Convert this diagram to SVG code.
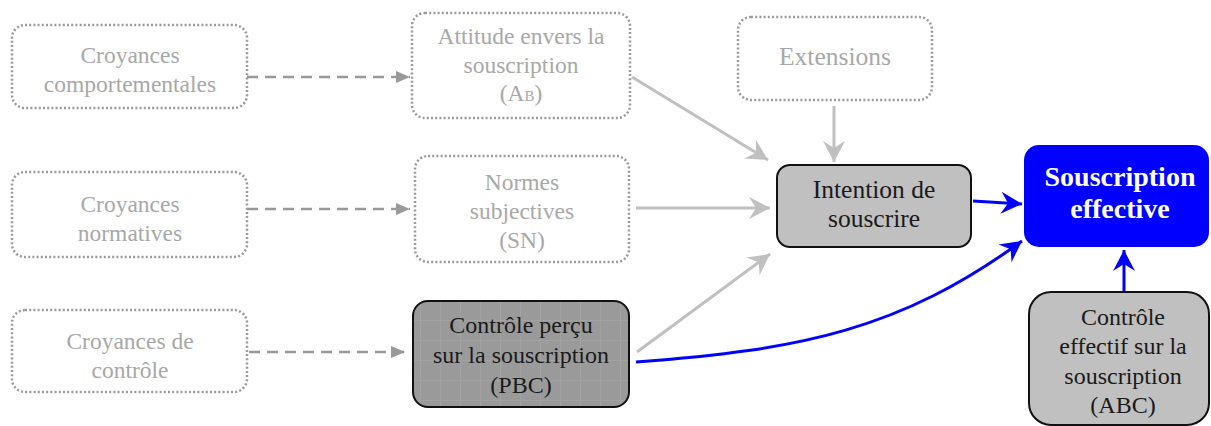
<svg xmlns="http://www.w3.org/2000/svg" width="1211" height="426" viewBox="0 0 1211 426" font-family="'Liberation Serif', 'DejaVu Serif', serif">
  <style>
    text { font-family: 'Liberation Serif', 'DejaVu Serif', serif; font-size: 23.5px; text-anchor: middle; }
    .faded rect { fill: #ffffff; stroke: #9a9a9a; stroke-width: 2.5; stroke-dasharray: 2 2.2; }
    .faded text { fill: #a8a8a8; }
    .solid rect { stroke: #111111; stroke-width: 2; }
    .solid text { fill: #1a1a1a; font-size: 24px; }
    .solid text.big { font-size: 25.5px; }
    .faded text.big { font-size: 25.5px; }
    .title { fill: #ffffff; font-weight: bold; font-size: 28px; }
    .dash { stroke: #999999; stroke-width: 2.5; stroke-dasharray: 11 7; fill: none; }
    .grey { stroke: #c0c0c0; stroke-width: 3; fill: none; }
    .blue { stroke: #0000ff; stroke-width: 3; fill: none; }
  </style>
  <defs>
    <marker id="tri" viewBox="-14 -7 15 14" markerWidth="15" markerHeight="14" refX="0" refY="0" orient="auto" markerUnits="userSpaceOnUse">
      <path d="M0,0 L-14,-6 L-14,6 Z" fill="#999999"/>
    </marker>
    <marker id="stealthGrey" viewBox="-23 -12 24 24" markerWidth="24" markerHeight="24" refX="0" refY="0" orient="auto" markerUnits="userSpaceOnUse">
      <path d="M0,0 L-21,-11 L-14,0 L-21,11 Z" fill="#c0c0c0"/>
    </marker>
    <marker id="stealthBlue" viewBox="-23 -12 24 24" markerWidth="24" markerHeight="24" refX="0" refY="0" orient="auto" markerUnits="userSpaceOnUse">
      <path d="M0,0 L-21,-11 L-14,0 L-21,11 Z" fill="#0000ff"/>
    </marker>
    <pattern id="grain" width="20" height="20" patternUnits="userSpaceOnUse">
      <rect width="20" height="20" fill="#9a9a9a"/>
      <path d="M0,0.5 H20 M0.5,0 V20" stroke="#a2a2a2" stroke-width="1"/>
    </pattern>
  </defs>

  <!-- connectors -->
  <g id="connectors">
    <path class="dash" d="M247,77 H410" marker-end="url(#tri)"/>
    <path class="dash" d="M247,209 H410" marker-end="url(#tri)"/>
    <path class="dash" d="M249,352 H405" marker-end="url(#tri)"/>
    <path class="grey" d="M632,77 L768,160" marker-end="url(#stealthGrey)"/>
    <path class="grey" d="M834,106 V162" marker-end="url(#stealthGrey)"/>
    <path class="grey" d="M636,208 H770" marker-end="url(#stealthGrey)"/>
    <path class="grey" d="M637,352 L770,254" marker-end="url(#stealthGrey)"/>
    <path class="blue" d="M973,201 L1022,204" marker-end="url(#stealthBlue)"/>
    <path class="blue" d="M636,362 C800,350 900,330 1022,241" marker-end="url(#stealthBlue)"/>
    <path class="blue" d="M1124,292 V250" marker-end="url(#stealthBlue)"/>
  </g>

  <g id="croyances-comportementales" class="faded">
    <rect x="12" y="25" width="235" height="83" rx="13"/>
    <text x="130" y="63">Croyances</text>
    <text x="130" y="92">comportementales</text>
  </g>

  <g id="attitude" class="faded">
    <rect x="412" y="13" width="218" height="105" rx="13"/>
    <text x="521" y="44">Attitude envers la</text>
    <text x="521" y="73">souscription</text>
    <text x="521" y="101">(A<tspan font-size="15">B</tspan>)</text>
  </g>

  <g id="extensions" class="faded">
    <rect x="738" y="17" width="194" height="83" rx="13"/>
    <text class="big" x="835" y="65">Extensions</text>
  </g>

  <g id="croyances-normatives" class="faded">
    <rect x="12" y="172" width="235" height="85" rx="13"/>
    <text x="130" y="212">Croyances</text>
    <text x="130" y="241">normatives</text>
  </g>

  <g id="normes" class="faded">
    <rect x="415" y="156" width="214" height="106" rx="13"/>
    <text x="522" y="190">Normes</text>
    <text x="522" y="219">subjectives</text>
    <text x="522" y="248">(SN)</text>
  </g>

  <g id="croyances-controle" class="faded">
    <rect x="12" y="310" width="235" height="82" rx="13"/>
    <text x="130" y="349">Croyances de</text>
    <text x="130" y="378">contrôle</text>
  </g>

  <g id="pbc" class="solid">
    <rect x="413" y="301" width="216" height="106" rx="15" fill="url(#grain)"/>
    <text x="521" y="333">Contrôle perçu</text>
    <text x="521" y="363">sur la souscription</text>
    <text x="521" y="393">(PBC)</text>
  </g>

  <g id="intention" class="solid">
    <rect x="777" y="165" width="194" height="82" rx="13" fill="#c0c0c0"/>
    <text class="big" x="874" y="198">Intention de</text>
    <text class="big" x="874" y="227">souscrire</text>
  </g>

  <g id="souscription-effective">
    <rect x="1024" y="145" width="185" height="102" rx="15" fill="#0000ff"/>
    <text class="title" x="1120" y="186">Souscription</text>
    <text class="title" x="1120" y="218">effective</text>
  </g>

  <g id="abc" class="solid">
    <rect x="1029" y="292" width="180" height="133" rx="22" fill="#c0c0c0"/>
    <text x="1123" y="325">Contrôle</text>
    <text x="1123" y="354">effectif sur la</text>
    <text x="1123" y="384">souscription</text>
    <text x="1123" y="413">(ABC)</text>
  </g>
</svg>
